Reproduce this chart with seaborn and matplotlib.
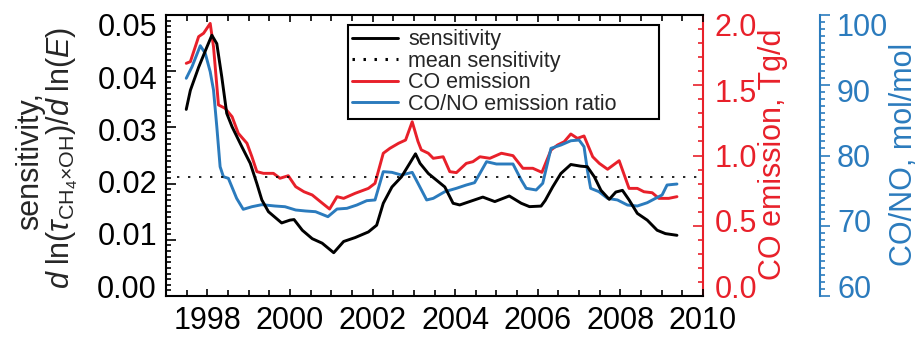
import numpy as np
import pandas as pd
import matplotlib
matplotlib.use("Agg")
import matplotlib.pyplot as plt
import seaborn as sns
from matplotlib.ticker import MultipleLocator, FormatStrFormatter
from matplotlib.lines import Line2D
from matplotlib.transforms import ScaledTranslation

# ---------------- data ----------------
sens_year = [1997.49, 1997.59, 1997.79, 1997.99, 1998.11, 1998.23, 1998.35, 1998.47,
             1998.60, 1998.84, 1999.04, 1999.20, 1999.32, 1999.48, 1999.80, 2000.00,
             2000.10, 2000.30, 2000.54, 2000.78, 2001.06, 2001.30, 2001.58, 2001.90,
             2002.10, 2002.26, 2002.47, 2002.70, 2002.90, 2003.04, 2003.15, 2003.35,
             2003.55, 2003.75, 2003.95, 2004.11, 2004.35, 2004.67, 2004.96, 2005.31,
             2005.60, 2005.80, 2006.08, 2006.18, 2006.36, 2006.56, 2006.80, 2007.04,
             2007.20, 2007.37, 2007.53, 2007.73, 2007.89, 2008.05, 2008.21, 2008.41,
             2008.65, 2008.89, 2009.09, 2009.37]
sens_val = [0.0332, 0.0366, 0.0407, 0.0443, 0.0464, 0.0449, 0.0390, 0.0325,
            0.0301, 0.0265, 0.0236, 0.0200, 0.0171, 0.0150, 0.0130, 0.0135,
            0.0136, 0.0117, 0.0102, 0.0094, 0.0077, 0.0097, 0.0104, 0.0114,
            0.0126, 0.0165, 0.0194, 0.0212, 0.0236, 0.0253, 0.0236, 0.0218,
            0.0206, 0.0194, 0.0165, 0.0162, 0.0168, 0.0176, 0.0168, 0.0178,
            0.0165, 0.0159, 0.0160, 0.0170, 0.0194, 0.0218, 0.0234, 0.0231,
            0.0230, 0.0212, 0.0188, 0.0172, 0.0185, 0.0188, 0.0171, 0.0147,
            0.0135, 0.0117, 0.0111, 0.0108]

co_year = [1997.49, 1997.59, 1997.79, 1997.91, 1998.07, 1998.15, 1998.27, 1998.43,
           1998.60, 1998.75, 1998.96, 1999.08, 1999.20, 1999.36, 1999.60, 1999.76,
           1999.96, 2000.14, 2000.34, 2000.54, 2000.74, 2000.96, 2001.14, 2001.30,
           2001.58, 2001.90, 2002.06, 2002.26, 2002.42, 2002.63, 2002.80, 2002.96,
           2003.10, 2003.18, 2003.35, 2003.47, 2003.71, 2003.87, 2004.03, 2004.27,
           2004.43, 2004.60, 2004.84, 2005.12, 2005.40, 2005.64, 2005.88, 2006.10,
           2006.32, 2006.48, 2006.64, 2006.80, 2006.96, 2007.12, 2007.33, 2007.49,
           2007.69, 2007.97, 2008.21, 2008.41, 2008.57, 2008.77, 2008.93, 2009.17,
           2009.37]
co_val = [1.656, 1.668, 1.846, 1.870, 1.940, 1.774, 1.360, 1.336,
          1.276, 1.158, 1.087, 0.991, 0.885, 0.873, 0.873, 0.838,
          0.856, 0.778, 0.742, 0.719, 0.671, 0.619, 0.707, 0.695,
          0.731, 0.766, 0.802, 1.016, 1.051, 1.087, 1.110, 1.240,
          1.100, 1.040, 1.016, 0.980, 0.991, 0.885, 0.878, 0.944,
          0.956, 0.991, 0.980, 1.016, 0.999, 0.909, 0.909, 0.880,
          1.039, 1.075, 1.098, 1.153, 1.122, 1.139, 0.991, 0.944,
          0.902, 0.963, 0.766, 0.766, 0.742, 0.735, 0.695, 0.695,
          0.707]

ratio_year = [1997.49, 1997.63, 1997.83, 1997.95, 1998.07, 1998.15, 1998.23, 1998.31,
              1998.39, 1998.51, 1998.71, 1998.87, 1999.08, 1999.32, 1999.64, 1999.88,
              2000.14, 2000.38, 2000.62, 2000.92, 2001.14, 2001.38, 2001.62, 2001.86,
              2002.06, 2002.26, 2002.47, 2002.70, 2002.96, 2003.10, 2003.31, 2003.47,
              2003.75, 2004.03, 2004.27, 2004.47, 2004.60, 2004.76, 2005.00, 2005.40,
              2005.60, 2005.72, 2005.96, 2006.12, 2006.32, 2006.56, 2006.80, 2007.00,
              2007.12, 2007.20, 2007.28, 2007.48, 2007.69, 2007.93, 2008.17, 2008.41,
              2008.65, 2008.85, 2009.01, 2009.13, 2009.37]
ratio_val = [90.99, 92.64, 95.63, 94.55, 91.93, 89.32, 84.10, 78.40,
             76.98, 76.75, 73.90, 72.34, 72.71, 73.00, 72.81, 72.71,
             72.24, 72.10, 72.00, 71.29, 72.38, 72.48, 72.95, 73.57,
             73.67, 77.70, 77.60, 77.22, 77.60, 76.04, 73.67, 73.90,
             74.85, 75.33, 75.80, 76.13, 77.46, 79.12, 78.79, 78.79,
             76.51, 75.33, 75.09, 76.04, 81.02, 81.49, 82.10, 82.20,
             81.25, 77.94, 75.33, 74.85, 73.90, 73.67, 72.95, 72.81,
             73.28, 73.90, 74.38, 75.80, 75.94]

mean_sensitivity = 0.0212

legend_labels = ["sensitivity", "mean sensitivity", "CO emission", "CO/NO emission ratio"]
x_ticks = [1998, 2000, 2002, 2004, 2006, 2008, 2010]

# ---------------- style ----------------
sns.set_theme(style="ticks")
plt.rcParams["font.family"] = ["Liberation Sans", "DejaVu Sans"]
plt.rcParams["mathtext.fontset"] = "custom"
plt.rcParams["mathtext.rm"] = "Liberation Sans"
plt.rcParams["mathtext.it"] = "Liberation Sans:italic"
plt.rcParams["mathtext.bf"] = "Liberation Sans:bold"
plt.rcParams["mathtext.sf"] = "Liberation Sans"

RED = "#e8202a"
BLUE = "#2b7bbd"
FS = 22
LW = 2.1

fig = plt.figure(figsize=(9.21, 3.39), dpi=100)
ax = fig.add_axes([166 / 921, 1 - 296 / 339, 537 / 921, 281 / 339])
ax2 = ax.twinx()
ax3 = ax.twinx()

sens_df = pd.DataFrame({"year": sens_year, "value": sens_val})
co_df = pd.DataFrame({"year": co_year, "value": co_val})
ratio_df = pd.DataFrame({"year": ratio_year, "value": ratio_val})

sns.lineplot(data=co_df, x="year", y="value", ax=ax2, color=RED, lw=LW, legend=False)
sns.lineplot(data=ratio_df, x="year", y="value", ax=ax3, color=BLUE, lw=LW, legend=False)
sns.lineplot(data=sens_df, x="year", y="value", ax=ax, color="black", lw=LW, legend=False)
ax.axhline(mean_sensitivity, xmin=0.02, xmax=0.99, color="black", lw=1.2, ls=(0, (1.4, 5.2)))

# main axis
ax.set_zorder(ax3.get_zorder() + 1)
ax.patch.set_visible(False)
ax.set_xlim(1997, 2010)
ax.set_ylim(0, 0.05)
ax.set_xticks(x_ticks)
ax.xaxis.set_minor_locator(MultipleLocator(0.5))
ax.yaxis.set_major_locator(MultipleLocator(0.01))
ax.yaxis.set_minor_locator(MultipleLocator(0.001))
ax.yaxis.set_major_formatter(FormatStrFormatter("%.2f"))
ax.set_xlabel("")
ax.set_ylabel("")
ax.tick_params(axis="both", which="both", direction="in", top=True, right=False,
               labelsize=FS, width=1.2, color="black", labelcolor="black")
ax.tick_params(axis="y", which="major", length=7.2, pad=6.5)
ax.tick_params(axis="y", which="minor", length=3.6)
ax.tick_params(axis="x", which="major", length=5, pad=7)
ax.tick_params(axis="x", which="minor", length=4)
for s in ["left", "top", "bottom"]:
    ax.spines[s].set_linewidth(1.5)
    ax.spines[s].set_color("black")
ax.spines["right"].set_visible(False)

# red axis
ax2.set_ylim(0, 2.0)
ax2.yaxis.set_major_locator(MultipleLocator(0.5))
ax2.yaxis.set_minor_locator(MultipleLocator(0.1))
ax2.yaxis.set_major_formatter(FormatStrFormatter("%.1f"))
ax2.set_ylabel("")
ax2.tick_params(axis="y", which="both", direction="in", colors=RED, labelsize=FS, width=1.2)
ax2.tick_params(axis="y", which="major", length=7.2, pad=8.5)
ax2.tick_params(axis="y", which="minor", length=3.6)
for s in ["left", "top", "bottom"]:
    ax2.spines[s].set_visible(False)
ax2.spines["right"].set_color(RED)
ax2.spines["right"].set_linewidth(1.5)

# blue axis
ax3.spines["right"].set_position(("axes", 1.218))
ax3.set_ylim(60, 100)
ax3.yaxis.set_major_locator(MultipleLocator(10))
ax3.yaxis.set_minor_locator(MultipleLocator(1))
ax3.yaxis.set_major_formatter(FormatStrFormatter("%d"))
ax3.set_ylabel("")
ax3.tick_params(axis="y", which="both", direction="out", colors=BLUE, labelsize=FS, width=1.2)
ax3.tick_params(axis="y", which="major", length=7.2, pad=5)
ax3.tick_params(axis="y", which="minor", length=3.6)
for s in ["left", "top", "bottom"]:
    ax3.spines[s].set_visible(False)
ax3.spines["right"].set_color(BLUE)
ax3.spines["right"].set_linewidth(1.5)

# the reference draws its y tick labels slightly pulled toward the axis middle
def pull_labels(a, shift_px=10):
    lo, hi = a.get_ylim()
    for tick in a.yaxis.get_major_ticks():
        v = tick.get_loc()
        frac = (v - lo) / (hi - lo)
        dy = -shift_px * (frac - 0.5) * 2 / fig.dpi
        for lab in (tick.label1, tick.label2):
            lab.set_transform(lab.get_transform() + ScaledTranslation(0, dy, fig.dpi_scale_trans))

fig.canvas.draw()
for a in (ax, ax2, ax3):
    pull_labels(a)

# axis labels
ax.text(-0.253, 0.48, "sensitivity,", rotation=90, ha="center", va="center",
        fontsize=FS, transform=ax.transAxes)
ax.text(-0.194, 0.49, r"$d\;\mathrm{ln}(\tau_{\mathrm{CH_4{\times}OH}})/d\;\mathrm{ln}(E)$",
        rotation=90, ha="center", va="center", fontsize=FS, transform=ax.transAxes)
ax.text(1.130, 0.505, "CO emission, Tg/d", rotation=90, ha="center", va="center",
        fontsize=FS, color=RED, transform=ax.transAxes)
ax.text(1.375, 0.505, "CO/NO, mol/mol", rotation=90, ha="center", va="center",
        fontsize=FS, color=BLUE, transform=ax.transAxes)

# legend
handles = [Line2D([], [], color="black", lw=LW),
           Line2D([], [], color="black", lw=2.2, ls=(0, (0.8, 2.8))),
           Line2D([], [], color=RED, lw=LW),
           Line2D([], [], color=BLUE, lw=LW)]
leg = ax.legend(handles, legend_labels, loc="upper left",
                bbox_to_anchor=(0.339, 0.633, 0.579, 0.331), mode="expand",
                fontsize=15.5, frameon=True, fancybox=False, edgecolor="black",
                framealpha=1, borderpad=0.2, labelspacing=0.02, handlelength=2.1,
                handletextpad=0.5, borderaxespad=0)
leg.get_frame().set_linewidth(1.5)

fig.savefig("out.png", dpi=100)
